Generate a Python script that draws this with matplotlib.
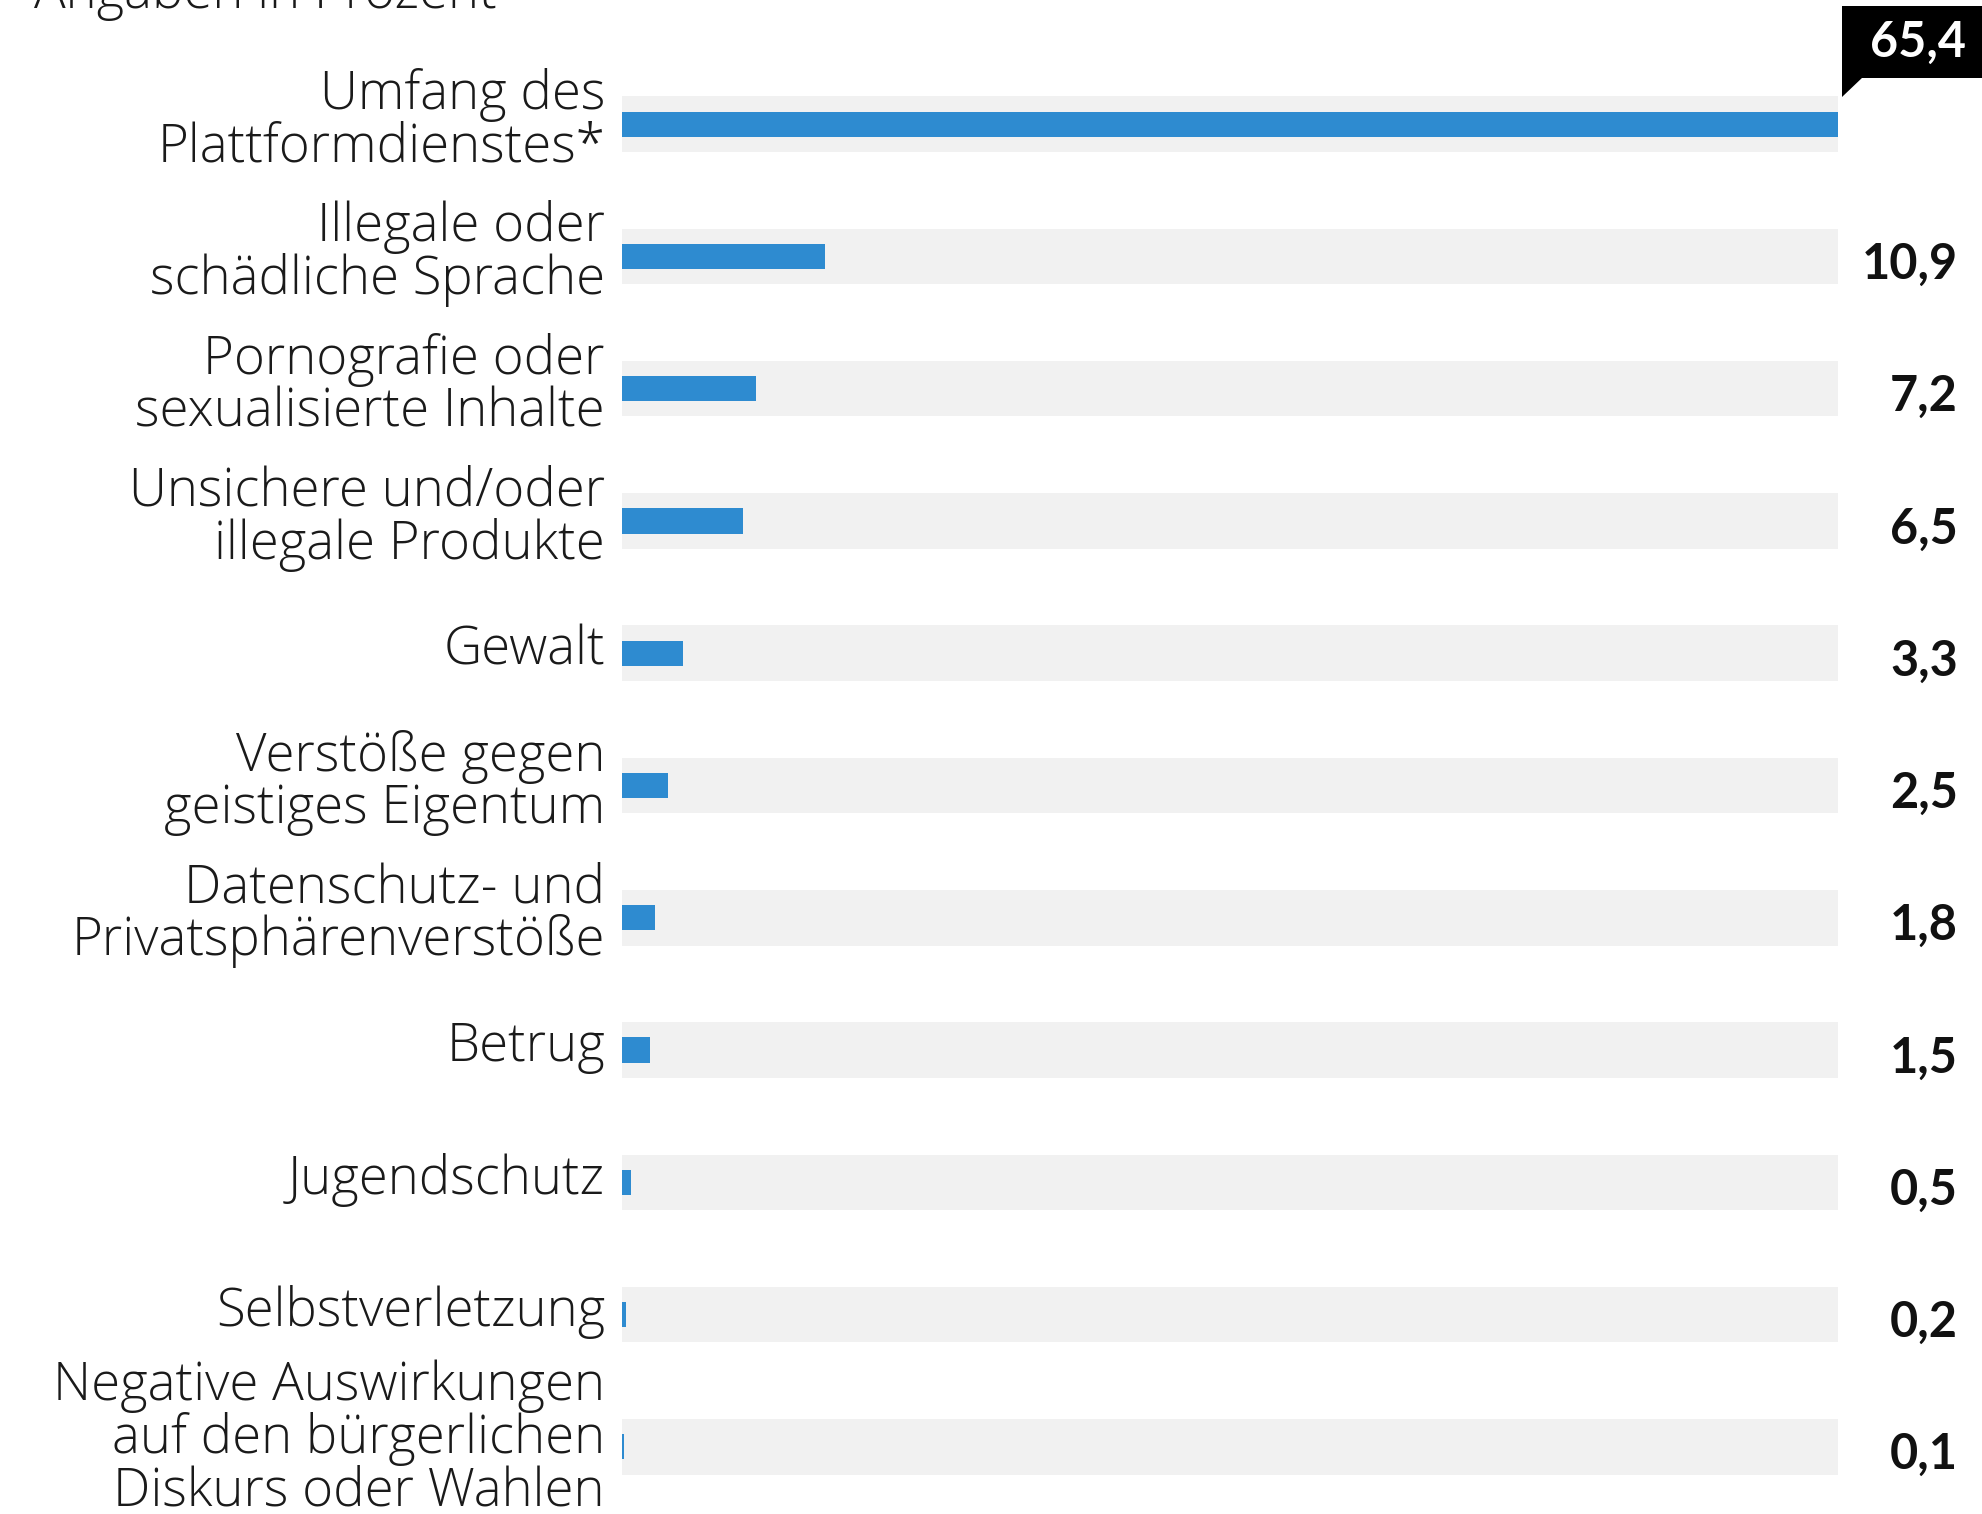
import matplotlib
matplotlib.use("Agg")
import matplotlib.pyplot as plt
import matplotlib.transforms as mtransforms
from matplotlib.patches import Rectangle, Polygon

# Daten
kategorien = [
    "Umfang des\nPlattformdienstes*",
    "Illegale oder\nschädliche Sprache",
    "Pornografie oder\nsexualisierte Inhalte",
    "Unsichere und/oder\nillegale Produkte",
    "Gewalt",
    "Verstöße gegen\ngeistiges Eigentum",
    "Datenschutz- und\nPrivatsphärenverstöße",
    "Betrug",
    "Jugendschutz",
    "Selbstverletzung",
    "Negative Auswirkungen\nauf den bürgerlichen\nDiskurs oder Wahlen",
]
werte = [65.4, 10.9, 7.2, 6.5, 3.3, 2.5, 1.8, 1.5, 0.5, 0.2, 0.1]
wert_labels = ["65,4", "10,9", "7,2", "6,5", "3,3", "2,5", "1,8", "1,5", "0,5", "0,2", "0,1"]
untertitel = "Angaben in Prozent"

BLAU = "#2e8bd0"
GRAU = "#f1f1f1"
W, H = 1983, 1514

fig = plt.figure(figsize=(W / 100, H / 100), dpi=100)
fig.patch.set_facecolor("white")

# Achse in Pixelkoordinaten der Vorlage
x0, x1 = 622, 1838
y_top, y_bot = 58, 1513
ax = fig.add_axes([x0 / W, 1 - y_bot / H, (x1 - x0) / W, (y_bot - y_top) / H])

pos = list(range(len(werte)))
vmax = max(werte)
ax.barh(pos, [vmax] * len(werte), height=0.42, color=GRAU, zorder=1)
ax.barh(pos, werte, height=0.19, color=BLAU, zorder=2)
ax.set_xlim(0, vmax)
ax.set_ylim(len(werte) - 0.5, -0.5)
ax.axis("off")

lbl_font = dict(family=["Open Sans", "DejaVu Sans"], fontweight="light", fontsize=38, color="#1a1a1a")
val_font = dict(family=["Lato", "DejaVu Sans"], fontweight="bold", fontsize=35, color="#111111")

trans_lbl = mtransforms.blended_transform_factory(fig.transFigure, ax.transData)
for i, (kat, lab) in enumerate(zip(kategorien, wert_labels)):
    dy = -0.06 if kat.count("\n") > 1 else -0.02  # dreizeilig etwas hoeher
    fig.text(605 / W, i + dy, kat, transform=trans_lbl, ha="right", va="center",
             linespacing=0.98, **lbl_font)
    if i == 0:
        continue
    fig.text(1958 / W, i + 0.06, lab, transform=trans_lbl, ha="right", va="center", **val_font)

# schwarze Sprechblase fuer den Spitzenwert
def px(x, y):
    return (x / W, 1 - y / H)

fig.patches.append(Rectangle(px(1842, 78), (W - 1842) / W, (78 - 6) / H,
                             transform=fig.transFigure, facecolor="black", edgecolor="none"))
fig.patches.append(Polygon([px(1842, 77), px(1842, 97), px(1863, 77)], closed=True,
                           transform=fig.transFigure, facecolor="black", edgecolor="none"))
fig.text(1918 / W, 1 - 42 / H, wert_labels[0], ha="center", va="center",
         family=["Lato", "DejaVu Sans"], fontweight="bold", fontsize=35, color="white")

# abgeschnittener Untertitel oben (wie in der Vorlage)
fig.text(34 / W, 1 - 8 / H, untertitel, ha="left", va="baseline", **lbl_font)

fig.savefig("out.png", dpi=100)
